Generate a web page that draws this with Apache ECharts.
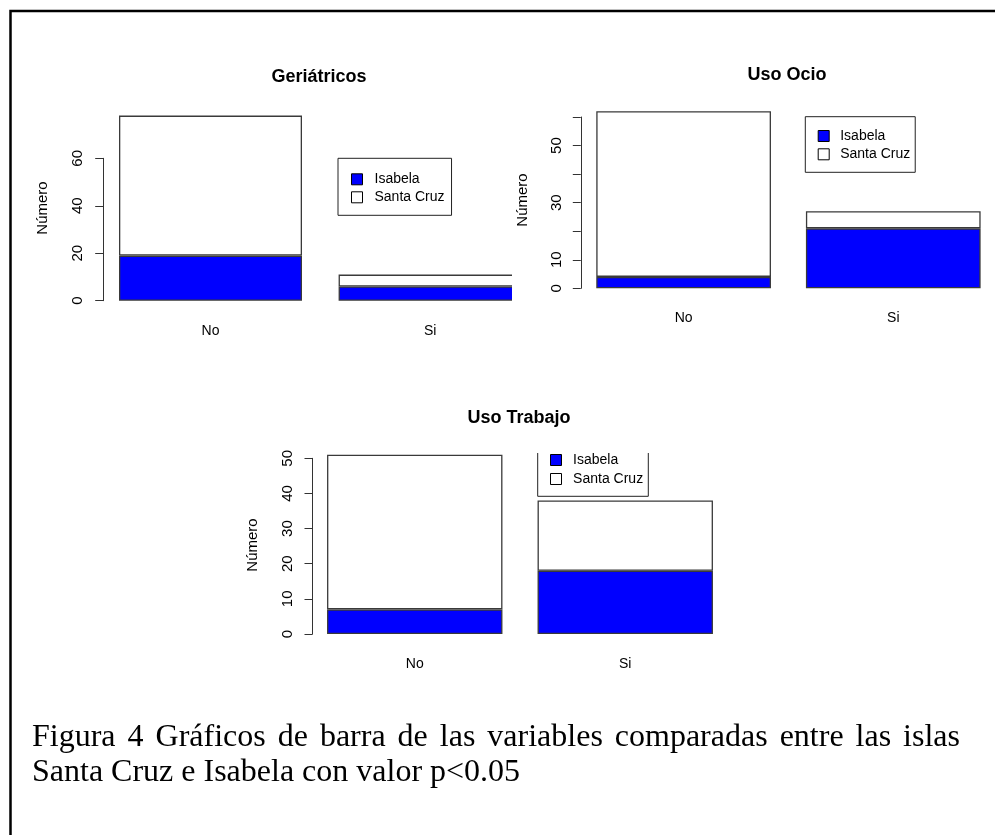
<!DOCTYPE html>
<html>
<head>
<meta charset="utf-8">
<script src="https://cdn.jsdelivr.net/npm/echarts@6/dist/echarts.min.js"></script>
<style>
  html, body { margin: 0; padding: 0; background: #ffffff; overflow: hidden; width: 995px; height: 835px; }
  #main { position: absolute; left: 0; top: 0; width: 1000px; height: 835px; }
  #geriClip { position: absolute; left: 0; top: 0; width: 512px; height: 360px; overflow: hidden; }
  #geri { position: absolute; left: 0; top: 0; width: 560px; height: 360px; }
</style>
</head>
<body>
<div id="main"></div>
<div id="geriClip"><div id="geri"></div></div>
<script>
// ---------------- data ----------------
const categories = ['No', 'Si'];
const seriesNames = ['Isabela', 'Santa Cruz'];

const geriIsabela = [19, 6];
const geriSantaCruz = [59, 5];

const ocioIsabela = [4, 21];
const ocioSantaCruz = [58, 6];

const trabajoIsabela = [7, 18];
const trabajoSantaCruz = [44, 20];

const geriTickLabels = [0, 20, 40, 60];
const ocioTickLabels = [0, 10, 30, 50];
const trabajoTickLabels = [0, 10, 20, 30, 40, 50];

const chartTitles = ['Geriátricos', 'Uso Ocio', 'Uso Trabajo'];
const yAxisTitle = 'Número';
const captionLine1 = 'Figura 4 Gráficos de barra de las variables comparadas entre las islas';
const captionLine2 = 'Santa Cruz e Isabela con valor p<0.05';

// ---------------- styles ----------------
const SANS = '"Liberation Sans", Arial, sans-serif';
const SERIF = '"Liberation Serif", "Times New Roman", serif';
const BLUE = '#0000ff';
const EDGE = '#3a3a3a';

function makeGrid(left, top, width, height) {
  return { left: left, top: top, width: width, height: height, containLabel: false };
}
function makeXAxis(gi) {
  return {
    type: 'category', gridIndex: gi, data: categories,
    axisLine: { show: false }, axisTick: { show: false },
    axisLabel: { margin: 23, fontSize: 14, color: '#000', fontFamily: SANS },
    splitLine: { show: false }
  };
}
function makeYAxis(gi, max, interval, labels, offset, margin) {
  return {
    type: 'value', gridIndex: gi, min: 0, max: max, interval: interval, offset: offset,
    axisLine: { show: true, lineStyle: { color: '#333', width: 1 } },
    axisTick: { show: true, length: 8, lineStyle: { color: '#333', width: 1 } },
    axisLabel: {
      rotate: 90, margin: margin, fontSize: 15, color: '#000', fontFamily: SANS,
      formatter: function (v) { return labels.indexOf(v) >= 0 ? String(v) : ''; }
    },
    splitLine: { show: false }
  };
}
function makeSeries(gi, isabela, santaCruz) {
  const common = {
    type: 'bar', xAxisIndex: gi, yAxisIndex: gi, stack: 'st' + gi,
    barWidth: '83.33%', clip: false, silent: true, animation: false
  };
  return [
    Object.assign({}, common, {
      name: seriesNames[0], data: isabela,
      itemStyle: { color: BLUE, borderColor: EDGE, borderWidth: 1.3 }
    }),
    Object.assign({}, common, {
      name: seriesNames[1], data: santaCruz,
      itemStyle: { color: '#ffffff', borderColor: EDGE, borderWidth: 1.3 }
    })
  ];
}
function makeLegend(left, top, padding, textPad, itemGap, withBorder) {
  return {
    orient: 'vertical', left: left, top: top, padding: padding, itemGap: itemGap,
    itemWidth: 11, itemHeight: 11, icon: 'rect', selectedMode: false,
    borderColor: withBorder ? '#222' : 'transparent', borderWidth: withBorder ? 1 : 0,
    textStyle: { fontSize: 14, color: '#000', fontFamily: SANS, padding: [0, 0, 0, textPad] },
    data: [
      { name: seriesNames[0], itemStyle: { color: BLUE, borderColor: '#000', borderWidth: 1 } },
      { name: seriesNames[1], itemStyle: { color: '#ffffff', borderColor: '#000', borderWidth: 1 } }
    ]
  };
}
function titleText(text, x, y) {
  return { type: 'text', x: x, y: y, silent: true,
    style: { text: text, fill: '#000', font: 'bold 18px ' + SANS, align: 'center', verticalAlign: 'middle' } };
}
function yTitleText(x, y) {
  return { type: 'text', x: x, y: y, rotation: Math.PI / 2, silent: true,
    style: { text: yAxisTitle, fill: '#000', font: '15px ' + SANS, align: 'center', verticalAlign: 'middle' } };
}

// justified caption line built from measured words
function justifiedLine(line, x0, x1, y, font) {
  const ctx = document.createElement('canvas').getContext('2d');
  ctx.font = font;
  const words = line.split(' ');
  const widths = words.map(function (w) { return ctx.measureText(w).width; });
  const total = widths.reduce(function (a, b) { return a + b; }, 0);
  const gap = (x1 - x0 - total) / (words.length - 1);
  const els = [];
  let x = x0;
  words.forEach(function (w, i) {
    els.push({ type: 'text', x: x, y: y, silent: true,
      style: { text: w, fill: '#000', font: font, align: 'left', verticalAlign: 'middle' } });
    x += widths[i] + gap;
  });
  return els;
}

const CAPTION_FONT = '32px ' + SERIF;

// ---------------- main chart (Uso Ocio, Uso Trabajo, frame, caption) ----------------
const main = echarts.init(document.getElementById('main'), null, { renderer: 'canvas' });
const mainOption = {
  animation: false,
  backgroundColor: 'transparent',
  grid: [
    makeGrid(578.8, 117, 419.3, 171.3),
    makeGrid(309.5, 458.3, 421, 175.7)
  ],
  xAxis: [makeXAxis(0), makeXAxis(1)],
  yAxis: [
    makeYAxis(0, 60, 10, ocioTickLabels, -2, 16),
    makeYAxis(1, 50, 10, trabajoTickLabels, -3, 17)
  ],
  series: [].concat(makeSeries(0, ocioIsabela, ocioSantaCruz), makeSeries(1, trabajoIsabela, trabajoSantaCruz)),
  legend: [
    makeLegend(805.3, 116.7, [12.3, 5, 11, 12.4], 6, 4.3, true),
    makeLegend(537.7, 453, [0, 0, 0, 12.3], 6.6, 5, false)
  ],
  graphic: [
    { type: 'polyline', silent: true, shape: { points: [[10.5, 835], [10.5, 11], [1000, 11]] },
      style: { stroke: '#000', lineWidth: 2.5, fill: null } },
    { type: 'polyline', silent: true, shape: { points: [[537.7, 453], [537.7, 496.3], [648.3, 496.3], [648.3, 453]] },
      style: { stroke: '#222', lineWidth: 1, fill: null } },
    titleText(chartTitles[1], 787, 75),
    titleText(chartTitles[2], 519, 418.3),
    yTitleText(523.3, 200),
    yTitleText(252.7, 545)
  ].concat(justifiedLine(captionLine1, 32, 960, 737.5, CAPTION_FONT))
   .concat([{ type: 'text', x: 32, y: 772.5, silent: true,
      style: { text: captionLine2, fill: '#000', font: CAPTION_FONT, align: 'left', verticalAlign: 'middle' } }])
};
main.setOption(mainOption);

// ---------------- Geriátricos (own canvas, clipped at 512px by its wrapper) ----------------
const geri = echarts.init(document.getElementById('geri'), null, { renderer: 'canvas' });
const geriOption = {
  animation: false,
  backgroundColor: 'transparent',
  grid: [makeGrid(100.7, 158.3, 439.2, 142.4)],
  xAxis: [makeXAxis(0)],
  yAxis: [makeYAxis(0, 60, 20, geriTickLabels, -2.5, 18)],
  series: makeSeries(0, geriIsabela, geriSantaCruz),
  legend: [makeLegend(338, 158.3, [14, 7, 11, 13], 7, 4, true)],
  graphic: [
    titleText(chartTitles[0], 319, 76.7),
    yTitleText(42.7, 208)
  ]
};
geri.setOption(geriOption);
</script>
</body>
</html>
